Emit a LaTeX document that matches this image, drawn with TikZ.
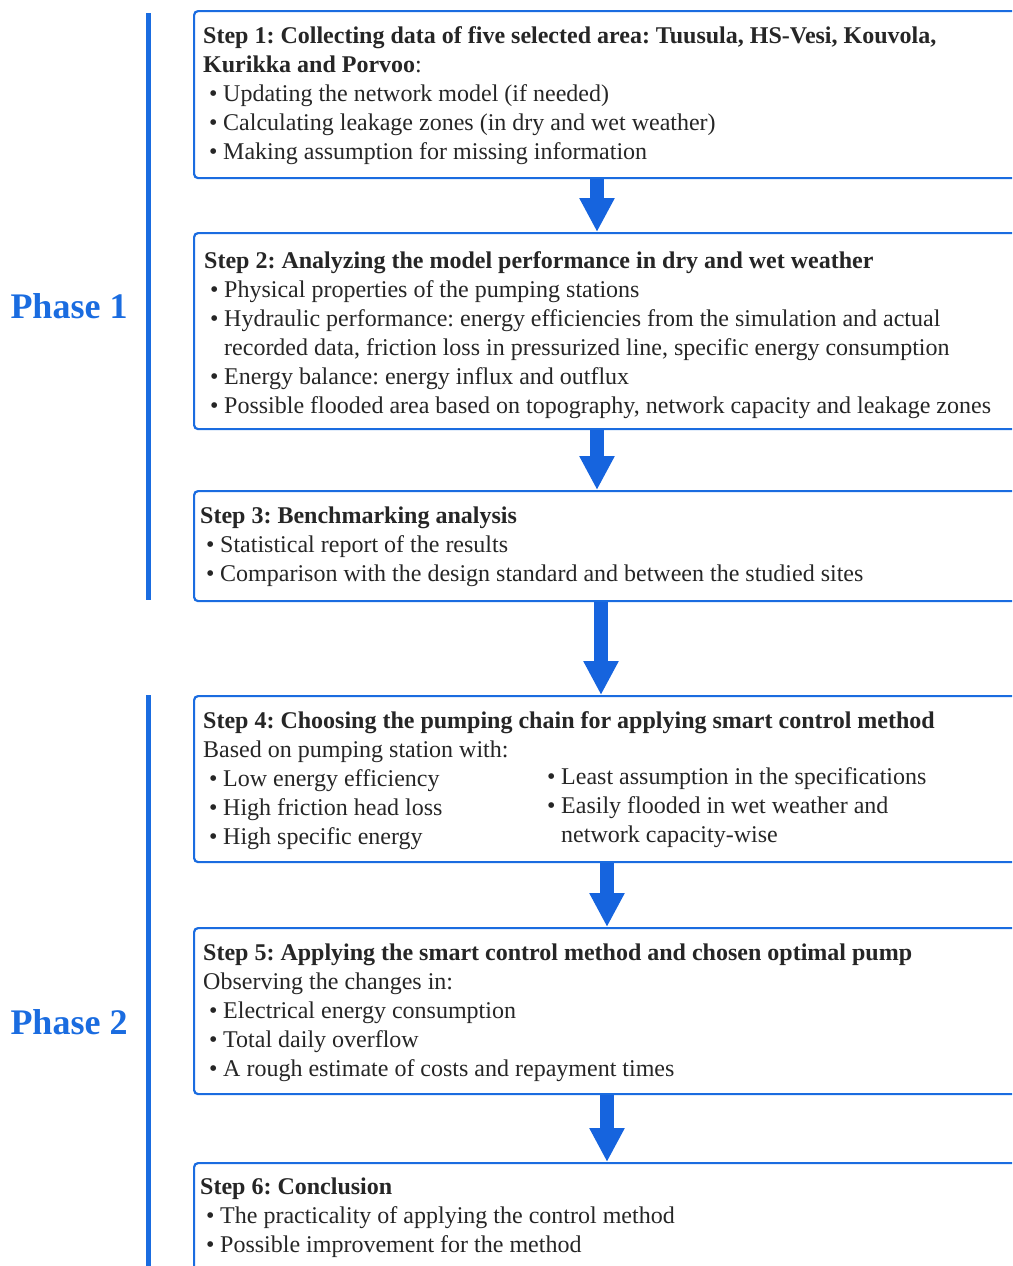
\documentclass[tikz,border=0pt]{standalone}
\usepackage{fontspec}
\setmainfont{Liberation Serif}
\usetikzlibrary{arrows.meta}
\frenchspacing

\definecolor{phaseblue}{RGB}{26,108,224}
\definecolor{arrowblue}{RGB}{22,100,222}
\definecolor{txtgray}{RGB}{38,38,38}

\newcommand{\itm}{\makebox[20pt][l]{\hspace{6pt}\textbullet}}
\newcommand{\cnt}{\hspace{20pt}}

\tikzset{
  stepbox/.style={draw=phaseblue, line width=2.2pt, rounded corners=4pt, fill=white,
    anchor=north west, minimum width=900pt, inner sep=0pt},
  steptext/.style={anchor=base west, inner sep=0pt, align=left, text=txtgray,
    font=\fontsize{24}{29}\selectfont},
  phaselabel/.style={text=phaseblue, font=\fontsize{36}{40}\selectfont\bfseries},
  phasebar/.style={draw=phaseblue, line width=5pt},
  flow/.style={draw=arrowblue, line width=14pt, -{Triangle[width=33pt,length=34pt]}}
}

\begin{document}
\begin{tikzpicture}[x=1pt,y=-1pt]
  \useasboundingbox (0,0) rectangle (1012,1266);
  \clip (0,0) rectangle (1012,1266);

  % Phase bars and labels
  \draw[phasebar] (148,13) coordinate (p1top) -- (148,600) coordinate (p1bot);
  \draw[phasebar] (148,695) coordinate (p2top) -- (148,1280) coordinate (p2bot);
  \node[phaselabel] (phase1) at (69,306) {Phase 1};
  \node[phaselabel] (phase2) at (69,1022) {Phase 2};

  % Step boxes
  \node[stepbox, minimum height=167pt] (s1) at (193,10) {};
  \node[stepbox, minimum height=196pt] (s2) at (193,232) {};
  \node[stepbox, minimum height=110pt] (s3) at (193,490) {};
  \node[stepbox, minimum height=166pt] (s4) at (193,695) {};
  \node[stepbox, minimum height=166pt] (s5) at (193,927) {};
  \node[stepbox, minimum height=160pt] (s6) at (193,1162) {};

  % Step 1 (anchored at the baseline of the last line)
  \node[steptext] (t1) at (203,159) {%
    \textbf{Step 1: Collecting data of five selected area: Tuusula, HS-Vesi, Kouvola,}\\
    \textbf{Kurikka and Porvoo}:\\
    \itm Updating the network model (if needed)\\
    \itm Calculating leakage zones (in dry and wet weather)\\
    \itm Making assumption for missing information};

  % Step 2
  \node[steptext] (t2) at (204,413) {%
    \textbf{Step 2: Analyzing the model performance in dry and wet weather}\\
    \itm Physical properties of the pumping stations\\
    \itm Hydraulic performance: energy efficiencies from the simulation and actual\\
    \cnt recorded data, friction loss in pressurized line, specific energy consumption\\
    \itm Energy balance: energy influx and outflux\\
    \itm Possible flooded area based on topography, network capacity and leakage zones};

  % Step 3
  \node[steptext] (t3) at (200,581) {%
    \textbf{Step 3: Benchmarking analysis}\\
    \itm Statistical report of the results\\
    \itm Comparison with the design standard and between the studied sites};

  % Step 4
  \node[steptext] (t4) at (203,844) {%
    \textbf{Step 4: Choosing the pumping chain for applying smart control method}\\
    Based on pumping station with:\\
    \itm Low energy efficiency\\
    \itm High friction head loss\\
    \itm High specific energy};
  \node[steptext] (t4r) at (541,842) {%
    \itm Least assumption in the specifications\\
    \itm Easily flooded in wet weather and\\
    \cnt network capacity-wise};

  % Step 5
  \node[steptext] (t5) at (203,1076) {%
    \textbf{Step 5: Applying the smart control method and chosen optimal pump}\\
    Observing the changes in:\\
    \itm Electrical energy consumption\\
    \itm Total daily overflow\\
    \itm A rough estimate of costs and repayment times};

  % Step 6
  \node[steptext] (t6) at (200,1252) {%
    \textbf{Step 6: Conclusion}\\
    \itm The practicality of applying the control method\\
    \itm Possible improvement for the method};

  % Arrows between steps
  \draw[flow] ([xshift=404pt]s1.south west) -- ([xshift=404pt]s2.north west);
  \draw[flow] ([xshift=404pt]s2.south west) -- ([xshift=404pt]s3.north west);
  \draw[flow] ([xshift=408pt]s3.south west) -- ([xshift=408pt]s4.north west);
  \draw[flow] ([xshift=414pt]s4.south west) -- ([xshift=414pt]s5.north west);
  \draw[flow] ([xshift=414pt]s5.south west) -- ([xshift=414pt]s6.north west);
\end{tikzpicture}
\end{document}
